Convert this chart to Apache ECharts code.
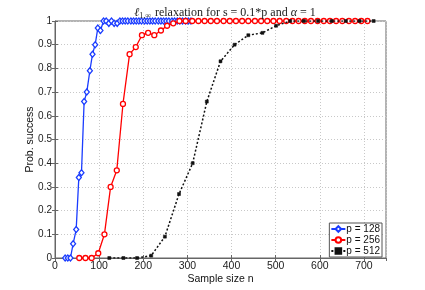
<!DOCTYPE html>
<html><head><meta charset="utf-8">
<script src="https://cdn.jsdelivr.net/npm/echarts@6/dist/echarts.min.js"></script>
<style>html,body{margin:0;padding:0;background:#fff}#c{width:425px;height:290px}</style>
</head><body><div id="c"></div>
<script>
const x128 = [23,29,35,41,48,54,60,66,72,79,85,91,97,103,110,116,122,128,134,141,147,153,159,165,172,178,184,190,196,203,209,215,221,227,234,240,246,252,258,265,271,277,283,289,296,302,308];
const y128 = [0,0,0,0.06,0.12,0.34,0.36,0.66,0.70,0.79,0.86,0.90,0.97,0.96,1,1,0.99,1,0.99,0.99,1,1,1,1,1,1,1,1,1,1,1,1,1,1,1,1,1,1,1,1,1,1,1,1,1,1,1];
const x256 = [55,69,83,98,112,126,140,154,169,183,197,211,225,240,254,268,282,296,311,325,339,353,367,382,396,410,424,438,453,467,481,495,509,524,538,552,566,580,595,609,623,637,651,666,680,694,708];
const y256 = [0,0,0,0.02,0.10,0.30,0.37,0.65,0.86,0.89,0.94,0.95,0.94,0.96,0.98,0.99,1,1,1,1,1,1,1,1,1,1,1,1,1,1,1,1,1,1,1,1,1,1,1,1,1,1,1,1,1,1,1];
const x512 = [123,155,186,218,249,281,312,344,375,407,438,470,501,533,564,596,627,659,690,722];
const y512 = [0,0,0,0.01,0.09,0.27,0.40,0.66,0.83,0.90,0.94,0.95,0.98,1,1,1,1,1,1,1];
const seriesNames = ['p = 128','p = 256','p = 512'];
const xTicks = [0,100,200,300,400,500,600,700];

const zip = (xs, ys) => xs.map((v,i)=>[v, ys[i]]);
const font = 'Liberation Sans, Arial, sans-serif';
const serif = 'Liberation Serif, serif';
const chart = echarts.init(document.getElementById('c'), null, {renderer:'canvas'});
const axisLineStyle = {color:'#666', width:1};
chart.setOption({
  animation:false,
  backgroundColor:'#fff',
  title:{
    text:'{i|ℓ}{sub|1,∞}{t| relaxation for s = 0.1*p and }{i|α}{t| = 1}',
    left:220, top:1, textAlign:'center',
    textStyle:{fontFamily:serif, fontSize:12, fontWeight:'normal', color:'#222',
      rich:{
        t:{fontFamily:serif, fontSize:12, color:'#222', lineHeight:14},
        i:{fontFamily:serif, fontStyle:'italic', fontSize:12, color:'#222', lineHeight:14},
        sub:{fontFamily:serif, fontSize:8, verticalAlign:'bottom', lineHeight:14, padding:[4,1,0,0], color:'#222'}
      }}
  },
  grid:{left:55, right:39, top:21, bottom:32, show:true, borderColor:'#666', borderWidth:1},
  legend:{
    data:seriesNames, orient:'vertical', right:43, bottom:33,
    backgroundColor:'#fff', borderColor:'#555', borderWidth:1, padding:[1,2,1,1],
    itemGap:1, itemWidth:14, itemHeight:7,
    textStyle:{fontFamily:font, fontSize:10, color:'#111', padding:[0,0,0,-4]}
  },
  xAxis:[{
    type:'value', min:0, max:750, interval:100,
    name:'Sample size n', nameLocation:'middle', nameGap:16, nameMoveOverlap:false,
    nameTextStyle:{fontFamily:font, fontSize:10.5, color:'#111'},
    axisLine:{show:true, lineStyle:axisLineStyle},
    axisTick:{show:true, inside:true, length:3, lineStyle:axisLineStyle},
    axisLabel:{fontFamily:font, fontSize:10.5, color:'#222', margin:3, showMaxLabel:false,
      formatter:v=> xTicks.indexOf(v)>=0 ? String(v) : ''},
    splitLine:{show:true, lineStyle:{type:[1,2], color:'#c8c8c8', width:1}}
  },{
    type:'value', min:0, max:750, interval:100, position:'top',
    axisLine:{show:false}, axisLabel:{show:false}, splitLine:{show:false},
    axisTick:{show:true, inside:true, length:3, lineStyle:axisLineStyle}
  }],
  yAxis:[{
    type:'value', min:0, max:1, interval:0.1,
    name:'Prob. success', nameLocation:'middle', nameGap:19, nameMoveOverlap:false,
    nameTextStyle:{fontFamily:font, fontSize:10.5, color:'#111'},
    axisLine:{show:true, lineStyle:axisLineStyle},
    axisTick:{show:true, inside:true, length:3, lineStyle:axisLineStyle},
    axisLabel:{fontFamily:font, fontSize:10, color:'#222', margin:3,
      formatter:v=> String(Math.round(v*10)/10)},
    splitLine:{show:true, lineStyle:{type:[1,2], color:'#c8c8c8', width:1}}
  },{
    type:'value', min:0, max:1, interval:0.1, position:'right',
    axisLine:{show:false}, axisLabel:{show:false}, splitLine:{show:false},
    axisTick:{show:true, inside:true, length:3, lineStyle:axisLineStyle}
  }],
  series:[
    {name:seriesNames[0], type:'line', data:zip(x128,y128), symbol:'diamond', symbolSize:[5,6],
     lineStyle:{color:'#1a3cff', width:1.3}, itemStyle:{color:'#fff', borderColor:'#1a3cff', borderWidth:1.3}, z:3},
    {name:seriesNames[1], type:'line', data:zip(x256,y256), symbol:'circle', symbolSize:5,
     lineStyle:{color:'#ff0000', width:1.3}, itemStyle:{color:'#fff', borderColor:'#ff0000', borderWidth:1.3}, z:4},
    {name:seriesNames[2], type:'line', data:zip(x512,y512), symbol:'rect', symbolSize:3,
     lineStyle:{color:'#111', width:1.5, type:[2,2]}, itemStyle:{color:'#111', borderColor:'#111', borderWidth:0.5}, z:5}
  ]
});
</script></body></html>
